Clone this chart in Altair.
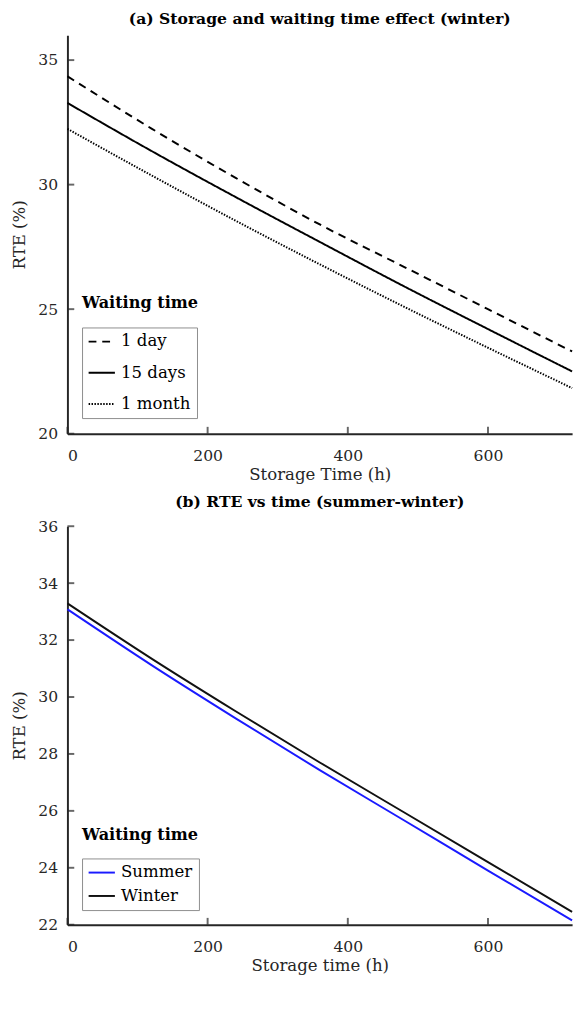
import altair as alt
import pandas as pd

# ---- data ----
hours = [0, 120, 240, 360, 480, 600, 720]
rte_1day = [34.35, 32.25, 30.27, 28.40, 26.70, 25.00, 23.30]
rte_15days = [33.28, 31.35, 29.50, 27.70, 25.92, 24.20, 22.50]
rte_1month = [32.24, 30.37, 28.55, 26.80, 25.10, 23.45, 21.83]
rte_summer = [33.08, 31.12, 29.25, 27.43, 25.67, 23.90, 22.15]
rte_winter = [33.29, 31.35, 29.50, 27.70, 25.95, 24.20, 22.45]

series_a = ["1 day", "15 days", "1 month"]
series_b = ["Summer", "Winter"]
x_ticks = [0, 200, 400, 600]
y_ticks_a = [20, 25, 30, 35]
y_ticks_b = [22, 24, 26, 28, 30, 32, 34, 36]

FONT = "DejaVu Serif"
INK = "#262626"
W, H = 518, 409


def long_df(names, cols):
    rows = []
    for n, c in zip(names, cols):
        for h, v in zip(hours, c):
            rows.append({"h": h, "rte": v, "series": n})
    return pd.DataFrame(rows)


df_a = long_df(series_a, [rte_1day, rte_15days, rte_1month])
df_b = long_df(series_b, [rte_summer, rte_winter])


def panel(df, names, ydom, yticks, xtitle, title, enc_kind, legend_y, legend_title_y, row_pad):
    xs = alt.Scale(domain=[0, 720], nice=False, zero=False)
    ys = alt.Scale(domain=ydom, nice=False, zero=False)
    xax = alt.Axis(values=x_ticks, title=xtitle, ticks=False, labelPadding=15,
                   titlePadding=3, format="d", grid=False)
    yax = alt.Axis(values=yticks, title="RTE (%)", ticks=False, labelPadding=10,
                   titlePadding=10, format="d", grid=False)
    leg = alt.Legend(orient="none", legendX=15, legendY=legend_y, title=None,
                     strokeColor="#8c8c8c", fillColor="white", padding=6,
                     symbolType="M-1.15,0H2.85", symbolSize=182, symbolStrokeWidth=2,
                     symbolFillColor="transparent",
                     labelFont=FONT, labelFontSize=17, labelColor="black",
                     rowPadding=row_pad, labelOffset=17, cornerRadius=0)
    base = alt.Chart(df).mark_line(strokeWidth=2, interpolate="monotone").encode(
        x=alt.X("h:Q", scale=xs, axis=xax),
        y=alt.Y("rte:Q", scale=ys, axis=yax),
    )
    if enc_kind == "dash":
        lines = base.encode(
            strokeDash=alt.StrokeDash("series:N", sort=names,
                                      scale=alt.Scale(domain=names,
                                                      range=[[8, 6], [1, 0], [1.5, 1.5]]),
                                      legend=leg),
            color=alt.value("black"),
        )
    else:
        lines = base.encode(
            color=alt.Color("series:N", sort=names,
                            scale=alt.Scale(domain=names, range=["#1a1aff", "#111111"]),
                            legend=leg),
        )
    xt = alt.Chart(pd.DataFrame({"v": x_ticks})).mark_tick(
        size=7, thickness=2, color=INK).encode(
        x=alt.X("v:Q", scale=xs), y=alt.value(H - 3.5))
    yt = alt.Chart(pd.DataFrame({"v": yticks})).mark_tick(
        size=7, thickness=2, color=INK).encode(
        y=alt.Y("v:Q", scale=ys), x=alt.value(3.5))
    lt = alt.Chart(pd.DataFrame({"t": ["Waiting time"]})).mark_text(
        font=FONT, fontWeight="bold", fontSize=16.5, align="left", baseline="middle",
        color="black").encode(text="t:N", x=alt.value(15), y=alt.value(legend_title_y))
    return alt.layer(lines, xt, yt, lt).properties(
        width=W, height=H,
        title=alt.TitleParams(title, font=FONT, fontWeight="bold", fontSize=16,
                              anchor="middle", color="black", offset=9),
    )


top = panel(df_a, series_a, [20, 36], y_ticks_a, "Storage Time (h)",
            "(a) Storage and waiting time effect (winter)", "dash", 300, 275, 14)
bottom = panel(df_b, series_b, [22, 36], y_ticks_b, "Storage time (h)",
               "(b) RTE vs time (summer-winter)", "color", 341, 317, 6)

chart = alt.vconcat(top, bottom, spacing=12).resolve_scale(
    color="independent", strokeDash="independent", y="independent",
).resolve_legend(
    color="independent", strokeDash="independent",
).properties(
    padding={"left": 2, "top": -10, "right": 0, "bottom": 0},
    background="white",
).configure_view(stroke=None).configure_axis(
    grid=False, domainColor=INK, domainWidth=2,
    labelFont=FONT, labelFontSize=16, labelColor=INK,
    titleFont=FONT, titleFontSize=17, titleFontWeight="normal", titleColor=INK,
)

chart.save("out.html", embed_options={"renderer": "svg", "actions": False})
